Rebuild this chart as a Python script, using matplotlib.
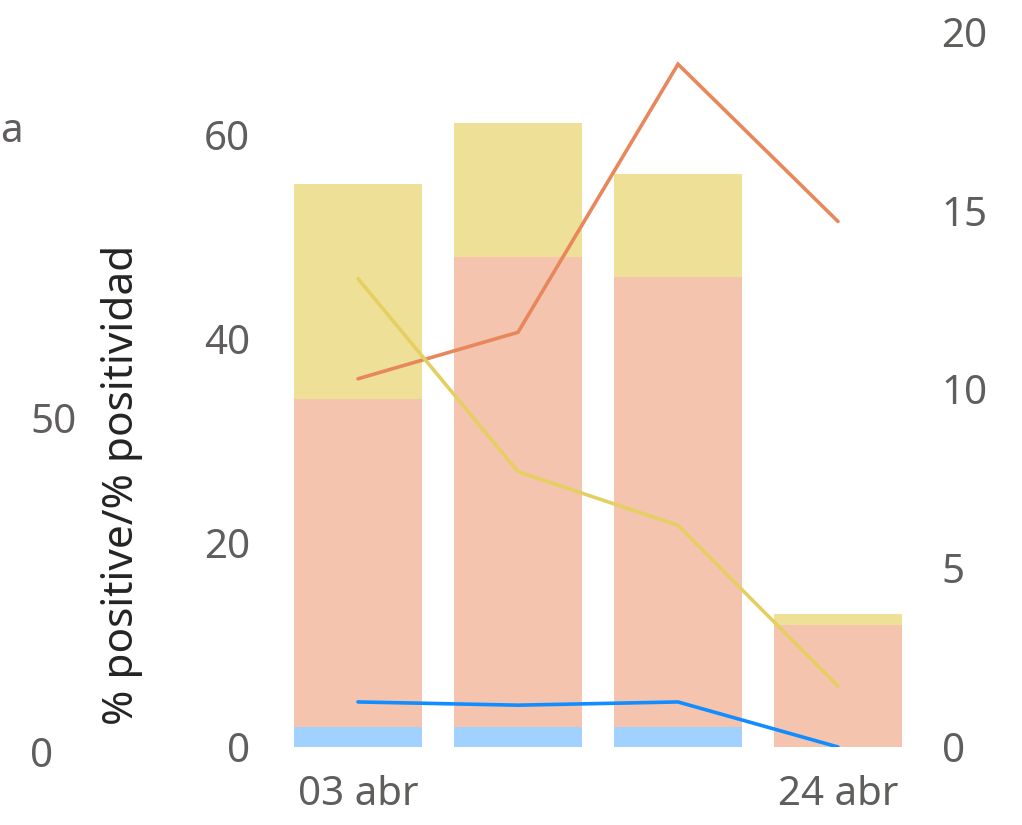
import matplotlib
matplotlib.use("Agg")
import matplotlib.pyplot as plt
import numpy as np

plt.rcParams['font.family'] = ['Noto Sans', 'DejaVu Sans']

categories = ["03 abr", "10 abr", "17 abr", "24 abr"]
xtick_labels = ["03 abr", "", "", "24 abr"]
bar_blue = [2.0, 2.0, 2.0, 0.0]
bar_salmon = [32.1, 46.0, 44.1, 12.0]
bar_yellow = [21.1, 13.2, 10.1, 1.0]
line_orange = [10.3, 11.6, 19.1, 14.7]
line_yellow = [13.1, 7.7, 6.2, 1.7]
line_blue = [1.26, 1.17, 1.26, 0.0]

W, H = 1022, 825
fig = plt.figure(figsize=(W / 100, H / 100), dpi=100)
left_px, right_px, top_px, bottom_px = 278, 918, 32, 747
ax = fig.add_axes([left_px / W, 1 - bottom_px / H, (right_px - left_px) / W, (bottom_px - top_px) / H])

x = np.arange(len(categories))
bw = 0.8
ax.bar(x, bar_blue, width=bw, color="#A0D1FF", linewidth=0)
ax.bar(x, bar_salmon, width=bw, bottom=bar_blue, color="#F4C4AF", linewidth=0)
b2 = np.array(bar_blue) + np.array(bar_salmon)
ax.bar(x, bar_yellow, width=bw, bottom=b2, color="#EFE097", linewidth=0)
ax.set_xlim(-0.5, 3.5)
ax.set_ylim(0, (bottom_px - top_px) / 10.2)
ax.set_yticks([0, 20, 40, 60])
ax.set_xticks(x)
ax.set_xticklabels(xtick_labels)

tick_color = "#605E5C"
fs = 29
ax.tick_params(axis='both', length=0, labelsize=fs, colors=tick_color)
ax.tick_params(axis='y', pad=20)
ax.tick_params(axis='x', pad=20)
for s in ax.spines.values():
    s.set_visible(False)
fig.text(122 / W, 1 - 485 / H, "% positive/% positividad", fontsize=30.5, color="#252423",
         rotation=90, ha='center', va='center')

ax2 = ax.twinx()
ax2.set_ylim(0, 20)
lw = 2.6
ax2.plot(x, line_orange, color="#E8875C", lw=lw, solid_capstyle='round', solid_joinstyle='miter')
ax2.plot(x, line_yellow, color="#E6CF62", lw=lw, solid_capstyle='round')
ax2.plot(x, line_blue, color="#118DFF", lw=lw, solid_capstyle='round')
ax2.set_yticks([0, 5, 10, 15, 20])
ax2.tick_params(axis='y', length=0, labelsize=fs, colors=tick_color, pad=17)
for s in ax2.spines.values():
    s.set_visible(False)

# far-left partial axis
far_zero_px, far_fifty_px = 752, 418
ax3 = fig.add_axes([30 / W, 1 - far_zero_px / H, 60 / W, (far_zero_px - top_px) / H])
ax3.set_ylim(0, 50 * (far_zero_px - top_px) / (far_zero_px - far_fifty_px))
ax3.set_yticks([0, 50])
ax3.set_xticks([])
ax3.patch.set_visible(False)
for s in ax3.spines.values():
    s.set_visible(False)
ax3.tick_params(axis='y', length=0, labelsize=fs, colors=tick_color, pad=0)
for t in ax3.get_yticklabels():
    t.set_horizontalalignment('left')
fig.text(0 / W, 1 - 132 / H, "a", fontsize=fs, color=tick_color, ha='left', va='center')

fig.savefig("out.png", dpi=100)
